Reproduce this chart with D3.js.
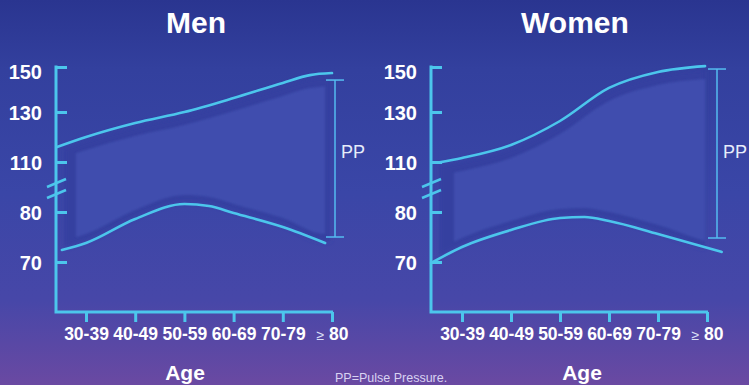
<!DOCTYPE html>
<html><head><meta charset="utf-8">
<script src="https://cdn.jsdelivr.net/npm/d3@7"></script>
<style>html,body{margin:0;padding:0;background:#3a46a6;}svg{display:block;}</style>
</head><body>
<svg id="chart" width="749" height="385"></svg>
<script>
// ---- data ----
const categories = ["30-39", "40-49", "50-59", "60-69", "70-79", "≥ 80"];
const yTicks = [70, 80, 110, 130, 150];

// x positions are in category-index units (0 = "30-39", 5 = "≥ 80")
const menSbpIdx = [-0.59, 0, 1, 2, 3, 4, 4.55, 5];
const menSbp    = [116, 120, 125.6, 130, 136.2, 142.9, 146.4, 147.3];
const menDbpIdx = [-0.49, 0, 1, 2, 2.5, 3, 4, 4.86];
const menDbp    = [72.4, 73.8, 78.6, 84.8, 83.6, 79.8, 77, 73.8];

const womenSbpIdx = [-0.49, 0, 1, 2, 3, 4, 4.96];
const womenSbp    = [109.6, 111.6, 116.8, 126.4, 140.7, 147.8, 150.4];
const womenDbpIdx = [-0.63, 0, 1, 2, 2.5, 3, 4, 5.3];
const womenDbp    = [69.8, 73, 76.4, 78.8, 79, 78.2, 75.6, 72];

const ppMen   = [75, 144.2];   // bracket bottom/top values
const ppWomen = [74.8, 149.1];

// ---- drawing ----
const svg = d3.select("#chart");
const W = 749, H = 385;
const defs = svg.append("defs");
const grad = defs.append("linearGradient").attr("id", "bg").attr("x1", 0).attr("y1", 0).attr("x2", 0).attr("y2", 1);
[[0, "#2a3590"], [0.18, "#33409e"], [0.5, "#3a46a7"], [0.78, "#4747a8"], [1, "#6a49a2"]]
  .forEach(([o, c]) => grad.append("stop").attr("offset", o).attr("stop-color", c));
defs.append("filter").attr("id", "soft").attr("x", "-10%").attr("y", "-10%").attr("width", "120%").attr("height", "120%")
  .append("feGaussianBlur").attr("stdDeviation", 1.2);
defs.append("filter").attr("id", "soft2").attr("x", "-10%").attr("y", "-10%").attr("width", "120%").attr("height", "120%")
  .append("feGaussianBlur").attr("stdDeviation", 2.5);

svg.append("rect").attr("width", W).attr("height", H).attr("fill", "url(#bg)");

const CYAN = "#4cc6ec";
const FONT = "'Liberation Sans', Arial, sans-serif";

function panel(cfg, sIdx, sVal, dIdx, dVal, pp, id) {
  const x = d3.scaleLinear().domain([0, 5]).range([cfg.x0, cfg.x5]);
  const y = d3.scaleLinear().domain(yTicks).range([262, 212, 162, 112, 67]);
  const g = svg.append("g");
  const sPts = sIdx.map((d, i) => [x(d), y(sVal[i])]);
  const dPts = dIdx.map((d, i) => [x(d), y(dVal[i])]);

  function band(topOff, botOff, xl, xr, fill, filt, tag) {
    const cA = defs.append("clipPath").attr("id", id + tag + "A");
    cA.append("path").attr("d", d3.area().curve(d3.curveMonotoneX)
      .x(p => p[0]).y0(p => p[1] + topOff).y1(320)(sPts));
    const cB = defs.append("clipPath").attr("id", id + tag + "B");
    cB.append("path").attr("d", d3.area().curve(d3.curveMonotoneX)
      .x(p => p[0]).y0(40).y1(p => p[1] - botOff)(dPts.concat([[dPts[dPts.length - 1][0] + 20, dPts[dPts.length - 1][1]]])));
    const gg = g.append("g").attr("filter", filt);
    gg.append("g").attr("clip-path", `url(#${id + tag}A)`)
      .append("rect").attr("clip-path", `url(#${id + tag}B)`)
      .attr("x", xl).attr("y", 40).attr("width", xr - xl).attr("height", 280).attr("fill", fill);
  }
  band(3, 2, cfg.axisX + 8, cfg.bandR + 5, "#3440a0", "url(#soft2)", "d");
  band(13, 9, cfg.bandL, cfg.bandR, "#3f4eae", "url(#soft)", "l");

  // axes
  const yAxis = d3.axisLeft(y).tickValues(yTicks).tickSize(-11).tickPadding(14);
  const ya = g.append("g").attr("transform", `translate(${cfg.axisX},0)`).call(yAxis);
  ya.select(".domain").remove();
  ya.selectAll("line").attr("stroke", CYAN).attr("stroke-width", 3);
  ya.selectAll("text").attr("fill", "#fff").attr("font-family", FONT).attr("font-weight", "bold")
    .attr("font-size", 20).attr("dy", d => d === 150 ? "0.58em" : "0.36em");

  const xAxis = d3.axisBottom(x).tickValues(d3.range(6)).tickFormat(i => categories[i]).tickSize(10).tickPadding(6);
  const xa = g.append("g").attr("transform", "translate(0,312)").call(xAxis);
  xa.select(".domain").remove();
  xa.selectAll("line").attr("stroke", CYAN).attr("stroke-width", 3);
  xa.selectAll("text").attr("fill", "#fff").attr("font-family", FONT).attr("font-weight", "bold").attr("font-size", 17.5);
  const last = xa.selectAll(".tick text").filter(i => i === 5);
  const parts = categories[5].split(" ");
  last.text(null);
  last.append("tspan").text(parts[0]).attr("font-weight", "normal").attr("font-size", 14).attr("fill", "#d8def5");
  last.append("tspan").text(" " + parts[1]);

  g.append("path").attr("d", `M${cfg.axisX},${y(150) - 1.5}V312H${cfg.xEnd}`)
    .attr("fill", "none").attr("stroke", CYAN).attr("stroke-width", 3);

  // axis break
  const mid = (y(80) + y(110)) / 2 + 1.5;
  [-5.5, 5.5].forEach(k => {
    g.append("line").attr("x1", cfg.axisX - 9).attr("y1", mid + k + 4)
      .attr("x2", cfg.axisX + 10).attr("y2", mid + k - 4)
      .attr("stroke", CYAN).attr("stroke-width", 2.5);
  });

  // curves
  const line = d3.line().curve(d3.curveMonotoneX);
  [sPts, dPts].forEach(p => g.append("path").attr("d", line(p)).attr("fill", "none")
    .attr("stroke", CYAN).attr("stroke-width", 2.6).attr("stroke-linecap", "round"));

  // PP bracket
  const bx = cfg.ppX;
  g.append("line").attr("x1", bx).attr("x2", bx).attr("y1", y(pp[1])).attr("y2", y(pp[0]))
    .attr("stroke", "#55bdf0").attr("stroke-width", 1.5);
  [pp[0], pp[1]].forEach(v => g.append("line").attr("x1", bx - 9).attr("x2", bx + 9)
    .attr("y1", y(v)).attr("y2", y(v)).attr("stroke", "#55bdf0").attr("stroke-width", 1.5));
  g.append("text").attr("x", bx + 6).attr("y", 158).text("PP")
    .attr("fill", "#e6ecfa").attr("font-family", FONT).attr("font-size", 18);

  // titles
  g.append("text").attr("x", cfg.titleX).attr("y", 33).attr("text-anchor", "middle").text(cfg.title)
    .attr("fill", "#fff").attr("font-family", FONT).attr("font-weight", "bold").attr("font-size", 30);
  g.append("text").attr("x", cfg.ageX).attr("y", 380).attr("text-anchor", "middle").text("Age")
    .attr("fill", "#fff").attr("font-family", FONT).attr("font-weight", "bold").attr("font-size", 21);
}

panel({axisX: 56, x0: 86, x5: 332, xEnd: 333, bandL: 76, bandR: 325, ppX: 335, titleX: 196, ageX: 185, title: "Men"},
  menSbpIdx, menSbp, menDbpIdx, menDbp, ppMen, "m");
panel({axisX: 431, x0: 462, x5: 707, xEnd: 708, bandL: 454, bandR: 709, ppX: 717, titleX: 575, ageX: 582, title: "Women"},
  womenSbpIdx, womenSbp, womenDbpIdx, womenDbp, ppWomen, "w");

svg.append("text").attr("x", 335).attr("y", 382).text("PP=Pulse Pressure.")
  .attr("fill", "#d9d2f2").attr("font-family", FONT).attr("font-size", 12.5);
</script>
</body></html>
